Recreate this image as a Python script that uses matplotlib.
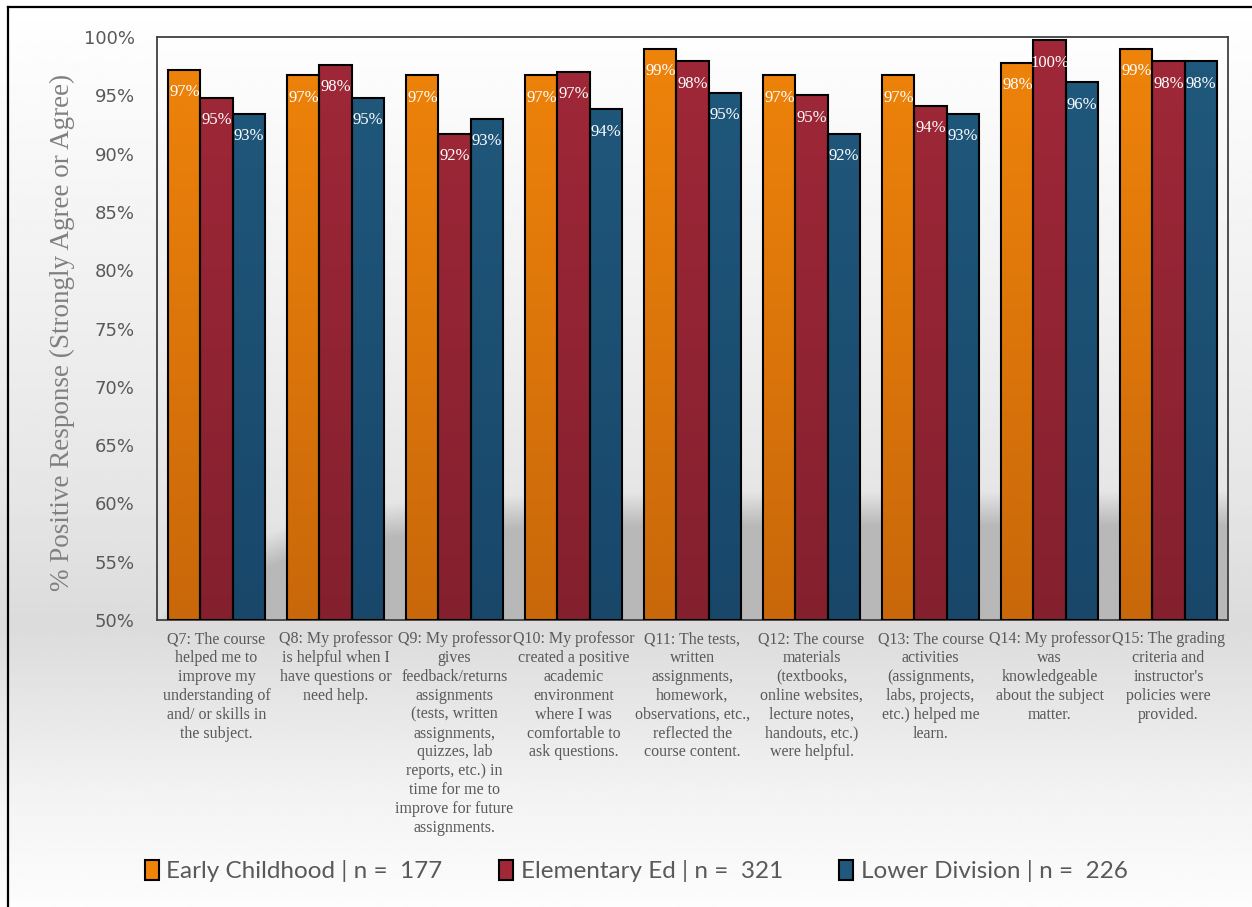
import numpy as np
import matplotlib
matplotlib.use("Agg")
import matplotlib.pyplot as plt
from matplotlib.patches import Rectangle
from matplotlib.lines import Line2D
from matplotlib.colors import to_rgb

# data
questions = [
    "Q7: The course\nhelped me to\nimprove my\nunderstanding of\nand/ or skills in\nthe subject.",
    "Q8: My professor\nis helpful when I\nhave questions or\nneed help.",
    "Q9: My professor\ngives\nfeedback/returns\nassignments\n(tests, written\nassignments,\nquizzes, lab\nreports, etc.) in\ntime for me to\nimprove for future\nassignments.",
    "Q10: My professor\ncreated a positive\nacademic\nenvironment\nwhere I was\ncomfortable to\nask questions.",
    "Q11: The tests,\nwritten\nassignments,\nhomework,\nobservations, etc.,\nreflected the\ncourse content.",
    "Q12: The course\nmaterials\n(textbooks,\nonline websites,\nlecture notes,\nhandouts, etc.)\nwere helpful.",
    "Q13: The course\nactivities\n(assignments,\nlabs, projects,\netc.) helped me\nlearn.",
    "Q14: My professor\nwas\nknowledgeable\nabout the subject\nmatter.",
    "Q15: The grading\ncriteria and\ninstructor's\npolicies were\nprovided.",
]
series_names = ["Early Childhood | n =  177",
                "Elementary Ed | n =  321",
                "Lower Division | n =  226"]
early_childhood = [97.2, 96.7, 96.7, 96.7, 99.0, 96.7, 96.7, 97.8, 99.0]
elementary_ed = [94.8, 97.6, 91.7, 97.0, 97.9, 95.0, 94.1, 99.7, 97.9]
lower_division = [93.4, 94.8, 93.0, 93.8, 95.2, 91.7, 93.4, 96.1, 97.9]
y_ticks = [50, 55, 60, 65, 70, 75, 80, 85, 90, 95, 100]

# gradient colours (top, bottom) for each series
grads = [("#F0840A", "#C9680A"), ("#A02838", "#84202E"), ("#20597D", "#18476A")]

fig = plt.figure(figsize=(12.52, 9.07), dpi=100)

# figure background gradient
bg = fig.add_axes([0, 0, 1, 1], zorder=-10)
yy = np.linspace(0, 907, 400)
prof = np.interp(yy, [0, 80, 300, 500, 625, 700, 800, 907],
                 [1.0, 0.985, 0.94, 0.9, 0.86, 0.90, 0.955, 0.99])
bg.imshow(np.repeat(prof[:, None], 2, axis=1), cmap="gray", vmin=0, vmax=1,
          aspect="auto", extent=(0, 1, 0, 1), interpolation="bilinear")
bg.set_xlim(0, 1)
bg.set_ylim(0, 1)
bg.axis("off")
# outer border (left + top)
bg.add_line(Line2D([8 / 1252, 8 / 1252], [0, 1 - 7 / 907], color="black", lw=1.6))
bg.add_line(Line2D([8 / 1252, 1], [1 - 7 / 907, 1 - 7 / 907], color="black", lw=1.6))

ax = fig.add_axes([157 / 1252, 287 / 907, 1071 / 1252, 583 / 907])
ax.set_facecolor("none")

# plot area background with soft shadow
xs = np.linspace(-0.5, 8.5, 450)
ys = np.linspace(100, 50, 300)
X, Y = np.meshgrid(xs, ys)
base = 0.995 - 0.12 * (100 - Y) / 50
y0 = 61 - 11 * np.exp(-(X + 0.5) * 1.2)
s = np.clip((y0 - Y) / 3.0, 0, 1)
plot_bg = base * (1 - s) + 0.72 * s
ax.imshow(plot_bg, cmap="gray", vmin=0, vmax=1, aspect="auto",
          extent=(-0.5, 8.5, 50, 100), interpolation="bilinear", zorder=0)

x = np.arange(len(questions))
w = 0.27
all_series = [early_childhood, elementary_ed, lower_division]
for i, vals in enumerate(all_series):
    pos = x + (i - 1) * w
    bars = ax.bar(pos, np.array(vals) - 50, w, bottom=50, facecolor="none",
                  edgecolor="black", linewidth=1.5, zorder=3)
    top_c = np.array(to_rgb(grads[i][0]))
    bot_c = np.array(to_rgb(grads[i][1]))
    for b, v in zip(bars, vals):
        t = np.linspace(0, 1, 100)[:, None]
        # gradient in absolute axis position (100% top -> 50% bottom)
        frac = ((100 - v) + t * (v - 50)) / 50
        img = top_c[None, None, :] * (1 - frac[..., None]) + bot_c[None, None, :] * frac[..., None]
        img = np.repeat(img, 2, axis=1)
        im = ax.imshow(img, aspect="auto", extent=(b.get_x(), b.get_x() + w, 50, v),
                       interpolation="bilinear", zorder=2)
        im.set_clip_path(b)
        ax.annotate(f"{v:.0f}%", (b.get_x() + w / 2, v), xytext=(0, -16),
                    textcoords="offset points", ha="center", va="center",
                    color="white", fontsize=12, family="Liberation Serif", zorder=4)

ax.set_xlim(-0.5, 8.5)
ax.set_ylim(50, 100)
ax.set_yticks(y_ticks)
ax.set_yticklabels([f"{t}%" for t in y_ticks], family="DejaVu Sans", fontsize=13, color="#595959")
ax.set_xticks(x)
ax.set_xticklabels(questions, family="Liberation Serif", fontsize=11.5, color="#595959",
                   linespacing=1.24, va="top")
ax.tick_params(axis="y", length=0, pad=16)
ax.tick_params(axis="x", length=0, pad=8)
for sp in ax.spines.values():
    sp.set_color("#404040")
    sp.set_linewidth(1.3)

fig.text(62 / 1252, 1 - 332 / 907, "% Positive Response (Strongly Agree or Agree)",
         rotation=90, ha="center", va="center", family="Liberation Serif",
         fontsize=19.5, color="#808080")

handles = [Rectangle((0, 0), 1, 1, facecolor=g[0], edgecolor="black", linewidth=1.5) for g in grads]
leg = fig.legend(handles, series_names, loc="center", bbox_to_anchor=(0.508, 36 / 907),
                 ncol=3, frameon=False, prop={"family": "Lato", "size": 17.5},
                 handlelength=0.6, handleheight=0.9, handletextpad=0.3, columnspacing=2.3)
for t in leg.get_texts():
    t.set_color("#595959")

fig.savefig("out.png", dpi=100)
